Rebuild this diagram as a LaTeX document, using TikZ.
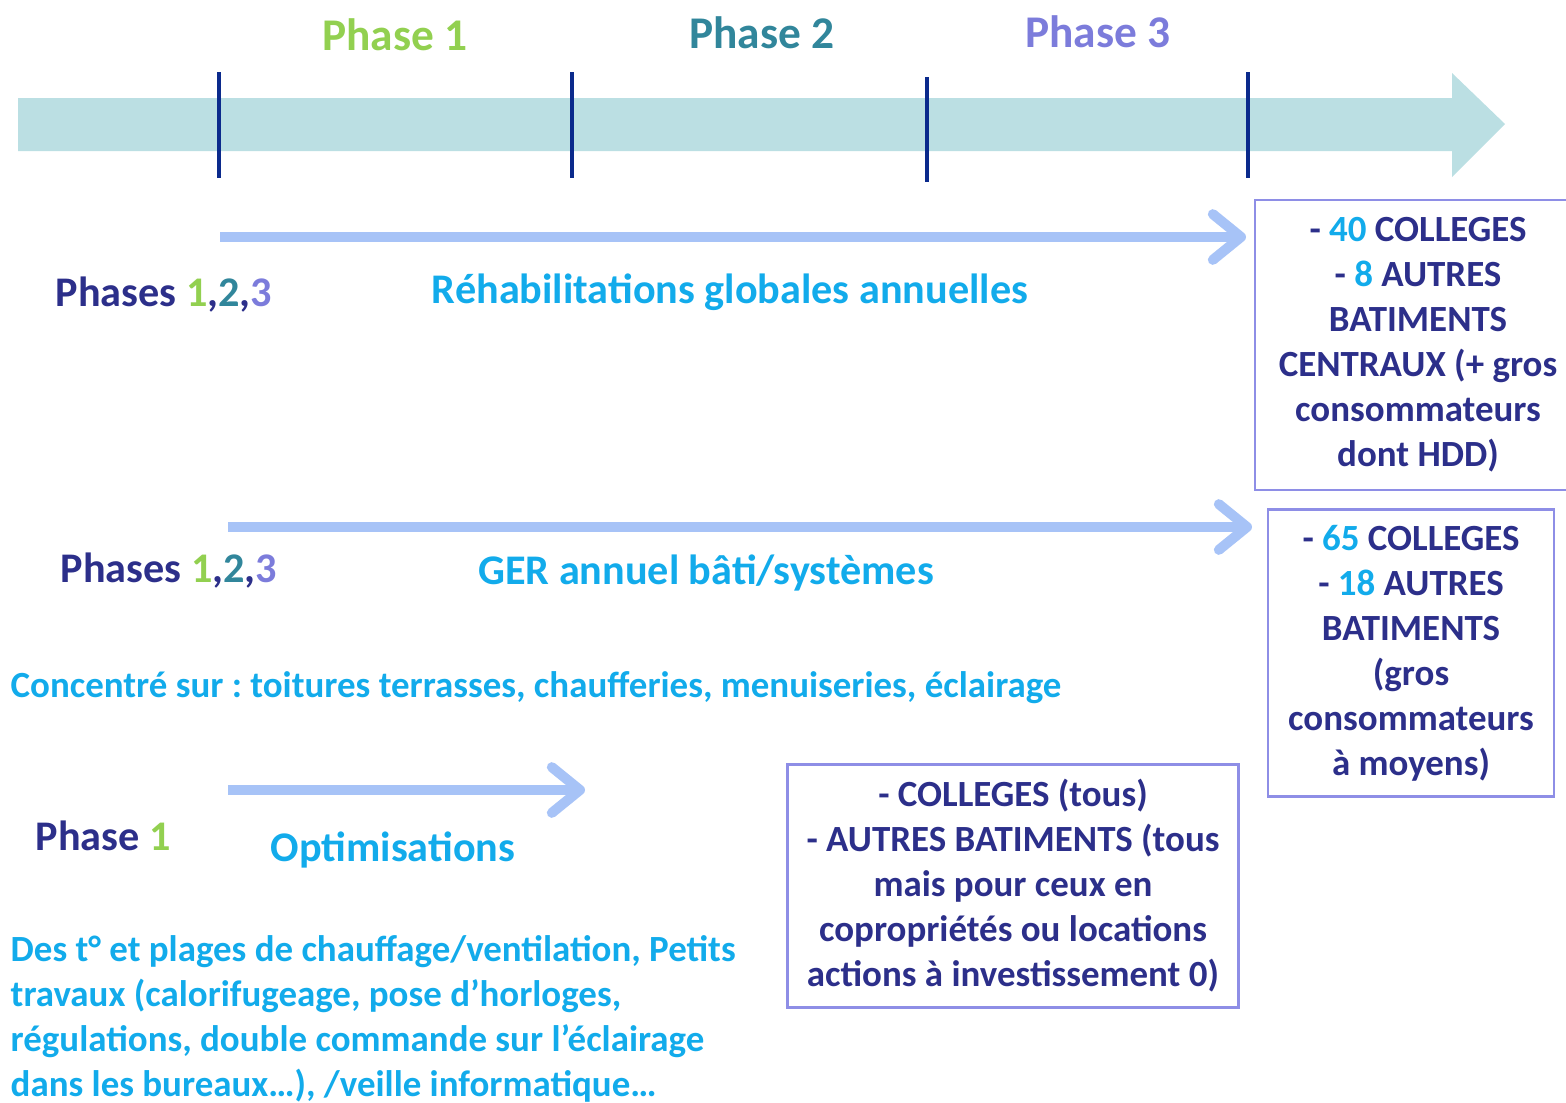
\documentclass[tikz,border=0pt]{standalone}
\usepackage{fontspec}
\setmainfont{Carlito}
\frenchspacing
\usetikzlibrary{arrows.meta}
\definecolor{bande}{HTML}{BBDFE3}
\definecolor{trait}{HTML}{0B2A8C}
\definecolor{phun}{HTML}{92D050}
\definecolor{phdeux}{HTML}{31869B}
\definecolor{phtrois}{HTML}{7C7CDB}
\definecolor{marine}{HTML}{2C2F8A}
\definecolor{ciel}{HTML}{12ABEB}
\definecolor{fleche}{HTML}{A7C3F7}
\definecolor{cadre}{HTML}{8E8EE6}
\newcommand{\phs}{Phases {\color{phun}1},{\color{phdeux}2},{\color{phtrois}3}}

\begin{document}
\begin{tikzpicture}[x=0.01cm,y=-0.01cm,
	titre/.style={font=\fontsize{12.9}{15}\selectfont\bfseries,inner sep=0pt},
	lbl/.style={font=\fontsize{12}{14}\selectfont\bfseries,inner sep=0pt},
	petit/.style={font=\fontsize{10.5}{12.8}\selectfont\bfseries,inner sep=0pt},
	boite/.style={petit,draw=cadre,line width=0.7pt,align=center,text=marine},
	fl/.style={draw=fleche,line width=2.85pt,-{Straight Barb[round,length=8pt,width=13pt]}}]
	\useasboundingbox (0,0) rectangle (1566,1103);
	\clip (0,0) rectangle (1566,1103);
	% frise
	\fill[bande] (18,98) -- (1452,98) -- (1452,73) -- (1505,124) -- (1452,177) -- (1452,151) -- (18,151) -- cycle;
	\foreach \x/\a/\b in {219/72/178,572/72/178,927/77/182,1248/72/178}
		\draw[trait,line width=1.2pt] (\x,\a) -- (\x,\b);
	\node[titre,text=phun] (ph1) at (395,35) {Phase 1};
	\node[titre,text=phdeux] (ph2) at (762,33) {Phase 2};
	\node[titre,text=phtrois] (ph3) at (1098,32) {Phase 3};

	% rehabilitations
	\node[boite,minimum width=3.26cm,minimum height=2.9cm] (b1) at (1418,345)
		{- {\color{ciel}40} COLLEGES\\ - {\color{ciel}8} AUTRES\\ BATIMENTS\\ CENTRAUX (+ gros\\ consommateurs\\ dont HDD)};
	\coordinate (r1) at (220,237);
	\coordinate (r2) at (1246,237);
	\draw[fl] (r1) -- (r2);
	\node[lbl,text=marine,anchor=west] (p1) at (55,295) {\phs};
	\node[lbl,text=ciel] (rehab) at (730,292) {Réhabilitations globales annuelles};

	% GER
	\node[boite,minimum width=2.86cm,minimum height=2.87cm] (b2) at (1411,653)
		{- {\color{ciel}65} COLLEGES\\ - {\color{ciel}18} AUTRES\\ BATIMENTS\\ (gros\\ consommateurs\\ à moyens)};
	\coordinate (g1) at (228,527);
	\coordinate (g2) at (1252,527);
	\draw[fl] (g1) -- (g2);
	\node[lbl,text=marine,anchor=west] (p2) at (60,571) {\phs};
	\node[lbl,text=ciel] (ger) at (706,573) {GER annuel bâti/systèmes};
	\node[petit,text=ciel,anchor=west] (conc) at (10,688) {Concentré sur : toitures terrasses, chaufferies, menuiseries, éclairage};

	% optimisations
	\node[boite,minimum width=4.51cm,minimum height=2.43cm] (b3) at (1013,886)
		{- COLLEGES (tous)\\ - AUTRES BATIMENTS (tous\\ mais pour ceux en\\ copropriétés ou locations\\ actions à investissement 0)};
	\coordinate (o1) at (228,790);
	\coordinate (o2) at (585,790);
	\draw[fl] (o1) -- (o2);
	\node[lbl,text=marine,anchor=west] (p3) at (35,836) {Phase {\color{phun}1}};
	\node[lbl,text=ciel] (optim) at (393,850) {Optimisations};
	\node[petit,text=ciel,align=left,anchor=north west] (detail) at (10,935)
		{Des t° et plages de chauffage/ventilation, Petits\\ travaux (calorifugeage, pose d’horloges,\\ régulations, double commande sur l’éclairage\\ dans les bureaux…), /veille informatique…};
\end{tikzpicture}
\end{document}
